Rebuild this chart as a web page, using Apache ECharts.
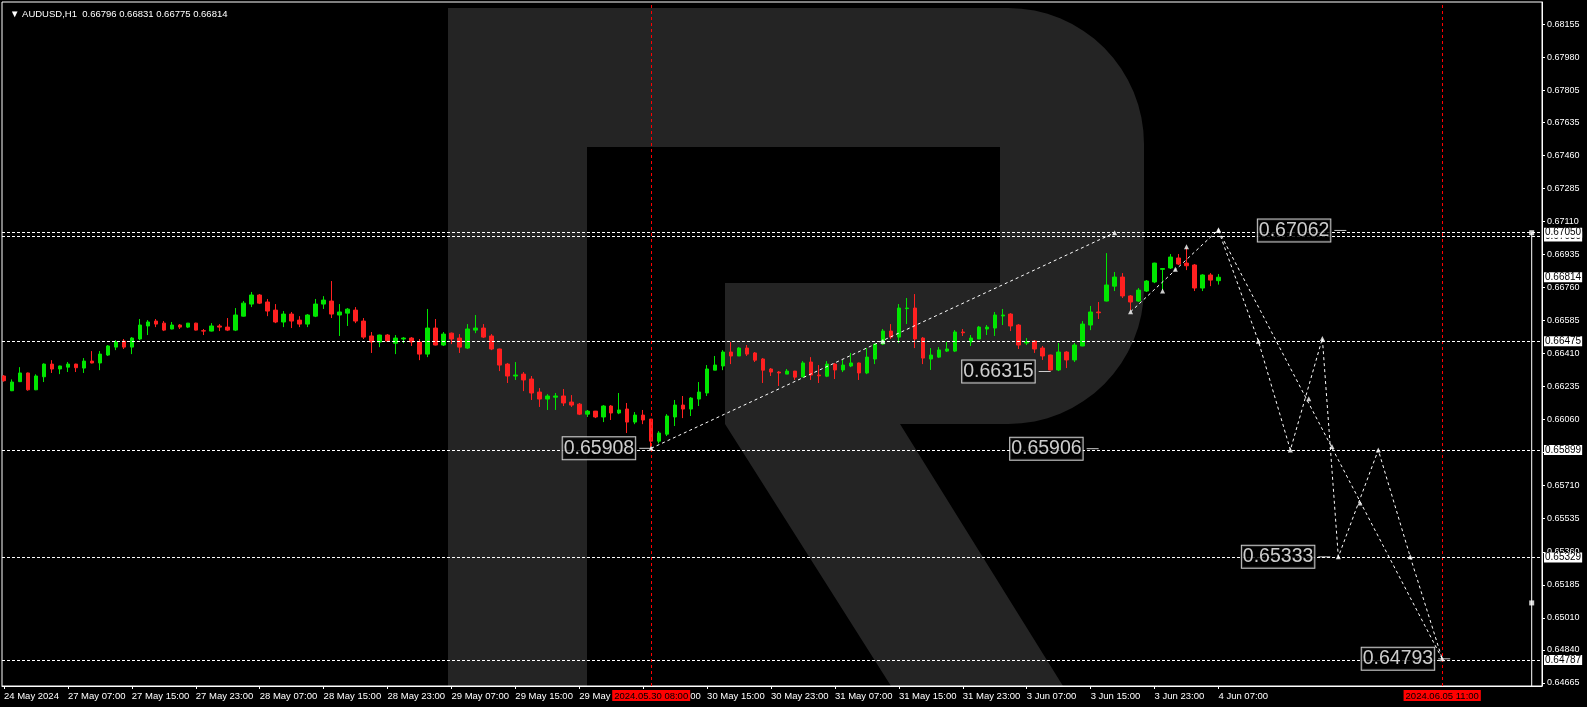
<!DOCTYPE html>
<html><head><meta charset="utf-8">
<script src="https://cdn.jsdelivr.net/npm/echarts@6/dist/echarts.min.js"></script>
<style>html,body{margin:0;padding:0;background:#000;}#c{width:1587px;height:707px;}</style>
</head><body><div id="c"></div>
<script>
const headerText = '\u25BC AUDUSD,H1  0.66796 0.66831 0.66775 0.66814';
const xTickIndex = [0,8,16,24,32,40,48,56,64,72,80,88,96,104,112,120,128,136,144,152];
const xTickLabels = ['24 May 2024','27 May 07:00','27 May 15:00','27 May 23:00','28 May 07:00','28 May 15:00','28 May 23:00','29 May 07:00','29 May 15:00','29 May 23:00','30 May 07:00','30 May 15:00','30 May 23:00','31 May 07:00','31 May 15:00','31 May 23:00','3 Jun 07:00','3 Jun 15:00','3 Jun 23:00','4 Jun 07:00'];
const yTickValues = [0.64665,0.64840,0.65010,0.65185,0.65360,0.65535,0.65710,0.65885,0.66060,0.66235,0.66410,0.66585,0.66760,0.66935,0.67110,0.67285,0.67460,0.67635,0.67805,0.67980,0.68155];
// [open, close, low, high], one per H1 bar starting 24 May 23:00
const candles = [
[0.66291,0.66266,0.66261,0.66296],[0.66213,0.66259,0.66211,0.66273],[0.66261,0.66307,0.66259,0.66338],[0.66307,0.66218,0.66213,0.66309],
[0.66218,0.66291,0.66216,0.66300],[0.66287,0.66354,0.66259,0.66358],[0.66354,0.66328,0.66307,0.66375],[0.66328,0.66344,0.66301,0.66346],
[0.66338,0.66354,0.66312,0.66365],[0.66354,0.66335,0.66312,0.66356],[0.66333,0.66370,0.66307,0.66386],[0.66370,0.66360,0.66358,0.66423],
[0.66360,0.66407,0.66322,0.66423],[0.66402,0.66450,0.66397,0.66455],[0.66444,0.66471,0.66428,0.66481],[0.66476,0.66444,0.66434,0.66487],
[0.66444,0.66492,0.66407,0.66497],[0.66487,0.66561,0.66481,0.66593],[0.66556,0.66577,0.66508,0.66587],[0.66582,0.66566,0.66550,0.66593],
[0.66571,0.66534,0.66529,0.66582],[0.66540,0.66561,0.66538,0.66577],[0.66561,0.66550,0.66540,0.66566],[0.66550,0.66571,0.66545,0.66572],
[0.66571,0.66534,0.66532,0.66573],[0.66531,0.66529,0.66508,0.66540],[0.66529,0.66556,0.66527,0.66571],[0.66556,0.66550,0.66529,0.66566],
[0.66550,0.66534,0.66529,0.66598],[0.66534,0.66614,0.66529,0.66651],[0.66608,0.66677,0.66606,0.66688],[0.66672,0.66720,0.66656,0.66736],
[0.66720,0.66677,0.66672,0.66725],[0.66683,0.66635,0.66608,0.66699],[0.66640,0.66577,0.66571,0.66672],[0.66577,0.66619,0.66550,0.66635],
[0.66619,0.66582,0.66545,0.66630],[0.66587,0.66566,0.66550,0.66608],[0.66566,0.66614,0.66550,0.66619],[0.66608,0.66672,0.66603,0.66699],
[0.66672,0.66693,0.66646,0.66714],[0.66688,0.66619,0.66598,0.66794],[0.66614,0.66630,0.66503,0.66672],[0.66624,0.66645,0.66556,0.66651],
[0.66640,0.66582,0.66571,0.66656],[0.66582,0.66497,0.66487,0.66598],[0.66503,0.66471,0.66413,0.66524],[0.66471,0.66508,0.66444,0.66510],
[0.66508,0.66476,0.66471,0.66513],[0.66465,0.66492,0.66407,0.66508],[0.66487,0.66492,0.66465,0.66497],[0.66492,0.66471,0.66450,0.66497],
[0.66471,0.66407,0.66375,0.66487],[0.66407,0.66545,0.66391,0.66646],[0.66545,0.66455,0.66453,0.66593],[0.66455,0.66513,0.66450,0.66524],
[0.66518,0.66487,0.66460,0.66521],[0.66492,0.66444,0.66413,0.66513],[0.66439,0.66540,0.66434,0.66566],[0.66534,0.66545,0.66518,0.66614],
[0.66545,0.66497,0.66492,0.66566],[0.66503,0.66434,0.66428,0.66513],[0.66434,0.66349,0.66317,0.66436],[0.66354,0.66291,0.66254,0.66360],
[0.66291,0.66296,0.66270,0.66365],[0.66301,0.66270,0.66211,0.66312],[0.66275,0.66201,0.66164,0.66291],[0.66206,0.66169,0.66127,0.66227],
[0.66169,0.66185,0.66111,0.66195],[0.66179,0.66185,0.66111,0.66201],[0.66185,0.66148,0.66132,0.66222],[0.66153,0.66137,0.66127,0.66190],
[0.66142,0.66089,0.66084,0.66148],[0.66089,0.66105,0.66074,0.66111],[0.66105,0.66074,0.66068,0.66106],[0.66074,0.66132,0.66047,0.66137],
[0.66132,0.66095,0.66058,0.66137],[0.66095,0.66111,0.66089,0.66201],[0.66116,0.66047,0.65989,0.66148],[0.66047,0.66084,0.66036,0.66100],
[0.66084,0.66058,0.66036,0.66111],[0.66063,0.65946,0.65908,0.66063],[0.65946,0.65989,0.65934,0.65999],[0.65983,0.66079,0.65973,0.66089],
[0.66074,0.66137,0.66026,0.66164],[0.66137,0.66116,0.66068,0.66185],[0.66116,0.66174,0.66079,0.66179],[0.66169,0.66206,0.66132,0.66259],
[0.66201,0.66328,0.66185,0.66349],[0.66322,0.66349,0.66322,0.66397],[0.66344,0.66418,0.66322,0.66428],[0.66418,0.66397,0.66354,0.66471],
[0.66397,0.66439,0.66397,0.66444],[0.66439,0.66407,0.66397,0.66455],[0.66413,0.66375,0.66365,0.66418],[0.66381,0.66322,0.66254,0.66386],
[0.66328,0.66312,0.66291,0.66333],[0.66312,0.66307,0.66238,0.66317],[0.66301,0.66317,0.66301,0.66328],[0.66317,0.66285,0.66270,0.66318],
[0.66286,0.66360,0.66285,0.66370],[0.66365,0.66296,0.66270,0.66391],[0.66296,0.66292,0.66254,0.66349],[0.66290,0.66354,0.66285,0.66370],
[0.66354,0.66323,0.66275,0.66360],[0.66323,0.66349,0.66312,0.66376],[0.66344,0.66360,0.66338,0.66413],[0.66360,0.66307,0.66270,0.66362],
[0.66307,0.66391,0.66301,0.66439],[0.66381,0.66460,0.66354,0.66462],[0.66460,0.66529,0.66455,0.66540],[0.66529,0.66497,0.66487,0.66566],
[0.66497,0.66651,0.66466,0.66672],[0.66648,0.66651,0.66566,0.66704],[0.66651,0.66487,0.66439,0.66725],[0.66492,0.66386,0.66354,0.66497],
[0.66381,0.66402,0.66323,0.66439],[0.66391,0.66429,0.66386,0.66444],[0.66423,0.66434,0.66418,0.66471],[0.66423,0.66524,0.66418,0.66534],
[0.66524,0.66520,0.66503,0.66540],[0.66471,0.66492,0.66450,0.66508],[0.66487,0.66550,0.66487,0.66556],[0.66540,0.66550,0.66508,0.66561],
[0.66545,0.66614,0.66503,0.66630],[0.66609,0.66614,0.66561,0.66646],[0.66619,0.66556,0.66529,0.66624],[0.66561,0.66455,0.66434,0.66566],
[0.66466,0.66471,0.66455,0.66492],[0.66476,0.66434,0.66413,0.66481],[0.66439,0.66397,0.66376,0.66450],[0.66402,0.66323,0.66321,0.66404],
[0.66323,0.66418,0.66317,0.66466],[0.66418,0.66376,0.66333,0.66423],[0.66376,0.66455,0.66365,0.66466],[0.66450,0.66566,0.66449,0.66582],
[0.66561,0.66630,0.66534,0.66662],[0.66630,0.66626,0.66593,0.66683],[0.66688,0.66773,0.66686,0.66942],[0.66767,0.66815,0.66741,0.66842],
[0.66815,0.66715,0.66704,0.66836],[0.66715,0.66683,0.66640,0.66720],[0.66688,0.66746,0.66683,0.66757],[0.66741,0.66794,0.66736,0.66799],
[0.66789,0.66889,0.66783,0.66891],[0.66856,0.66860,0.66746,0.66863],[0.66863,0.66921,0.66858,0.66937],[0.66916,0.66884,0.66879,0.66937],
[0.66889,0.66875,0.66852,0.66969],[0.66879,0.66757,0.66741,0.66884],[0.66757,0.66826,0.66741,0.66830],[0.66826,0.66799,0.66767,0.66836],
[0.66796,0.66814,0.66775,0.66831]
];
const levelLines = [0.67030, 0.67050, 0.66475, 0.65899, 0.65329, 0.64787];
const currentPrice = 0.66814;
const vLineIndex = [81, 180];
const vLineLabels = ['2024.05.30 08:00', '2024.06.05 11:00'];
const trend1 = [[81,0.65908],[139,0.67050]];
const trend1Marks = [[81,0.65908],[110,0.66475],[139,0.67050]];
const trend2 = [[141,0.66631],[152,0.67066]];
const trend2Marks = [[141,0.66631],[145,0.66741],[146.6,0.66856],[148,0.66976],[152,0.67066]];
const fcZigzag = [[152,0.67062],[157,0.66475],[161,0.65899],[165,0.66490],[167,0.65333],[172,0.65899],[176,0.65333],[180,0.64793]];
const fcStraight = [[152,0.67062],[180,0.64793]];
const fcCross = [[163.3,0.66170],[166.2,0.65918],[169.7,0.65618]];
const priceNotes = [[81,0.65908,'0.65908'],[131,0.66315,'0.66315'],[137,0.65906,'0.65906'],[168,0.67062,'0.67062'],[166,0.65333,'0.65333'],[181,0.64793,'0.64793']];
const rangeBar = [[191.2,0.67050],[191.2,0.64649]];
const rangeMarks = [[191.2,0.67050],[191.2,0.65089]];

const FONT = "'Liberation Sans', Arial, sans-serif";

// background "R" watermark outline (decoration only)
function arcPts(cx, cy, r, a0, a1) {
  const pts = [];
  for (let k = 0; k <= 16; k++) {
    const a = (a0 + (a1 - a0) * k / 16) * Math.PI / 180;
    pts.push([cx + r * Math.cos(a), cy + r * Math.sin(a)]);
  }
  return pts;
}
const logoPts = [[448, 8], [1008, 8]]
  .concat(arcPts(1008, 144, 136, -90, 0))
  .concat([[1144, 288]])
  .concat(arcPts(1008, 288, 136, 0, 90))
  .concat([[900, 424], [1063, 686], [891, 686], [725, 424], [725, 283], [1000, 283], [1000, 147], [587, 147], [587, 686], [448, 686]]);

const chart = echarts.init(document.getElementById('c'), null, {renderer: 'canvas'});
const dash = [3, 3];
const tagLabel = (txt) => ({show: true, position: 'end', distance: 2, formatter: txt, color: '#000', backgroundColor: '#fff',
          fontSize: 10, fontFamily: FONT, padding: [0, 1], lineHeight: 10});
const hMarks = levelLines.map(v => ({
  yAxis: v,
  lineStyle: {color: '#ffffff', type: [3, 2], width: 1},
  label: tagLabel(v.toFixed(5))
}));
hMarks.push({yAxis: currentPrice, lineStyle: {color: 'rgba(0,0,0,0)', width: 1}, label: tagLabel(currentPrice.toFixed(5))});
const vMarks = vLineIndex.map((ix, k) => ({
  xAxis: ix,
  lineStyle: {color: '#ff0000', type: dash, width: 1},
  label: {show: true, position: 'start', distance: 4, formatter: vLineLabels[k], color: '#000', backgroundColor: '#ff0000',
          fontSize: 9.5, fontFamily: FONT, padding: [1, 2, 0, 2], lineHeight: 10}
}));

const markerStyle = {type: 'scatter', symbol: 'triangle', symbolSize: 5, itemStyle: {color: '#fff'}, silent: true, z: 6};
function dashedLine(data) {
  return {type: 'line', data: data, symbol: 'none', silent: true, z: 5,
          lineStyle: {color: '#fff', width: 1, type: dash}};
}

chart.setOption({
  animation: false,
  backgroundColor: '#000',
  title: {text: headerText, left: 5, top: 4,
          textStyle: {color: '#fff', fontSize: 9.5, fontWeight: 'normal', fontFamily: FONT}},
  graphic: [{
    type: 'polygon', z: -10, silent: true,
    shape: {points: logoPts},
    style: {fill: '#242424'}
  }],
  grid: {left: 2, right: 45, top: 2, bottom: 21, show: true, borderColor: '#fff', borderWidth: 1, backgroundColor: 'transparent'},
  xAxis: {
    type: 'value', min: -0.25, max: 192.49,
    axisLine: {show: true, onZero: false, lineStyle: {color: '#fff', width: 1}},
    axisTick: {show: true, length: 3, lineStyle: {color: '#fff'}, customValues: xTickIndex},
    splitLine: {show: false},
    axisLabel: {
      customValues: xTickIndex, align: 'left', margin: 5, color: '#fff', fontSize: 9.5, fontFamily: FONT,
      formatter: v => { const i = xTickIndex.indexOf(Math.round(v)); return i >= 0 ? xTickLabels[i] : ''; }
    }
  },
  yAxis: {
    type: 'value', position: 'right', min: 0.64649, max: 0.68272, scale: true,
    axisLine: {show: true, onZero: false, lineStyle: {color: '#fff', width: 1}},
    axisTick: {show: true, length: 3, lineStyle: {color: '#fff'}, customValues: yTickValues},
    splitLine: {show: false},
    axisLabel: {customValues: yTickValues, margin: 5, color: '#fff', fontSize: 9, fontFamily: FONT,
                formatter: v => v.toFixed(5)}
  },
  series: [
    {
      type: 'candlestick', name: 'AUDUSD,H1',
      data: candles.map((d, i) => [i, d[0], d[1], d[2], d[3]]),
      encode: {x: 0, y: [1, 2, 3, 4]},
      barWidth: 4, silent: true, z: 3,
      itemStyle: {color: '#00e600', color0: '#ff2020', borderColor: '#00e600', borderColor0: '#ff2020', borderWidth: 1},
      markLine: {symbol: ['none', 'none'], silent: true, animation: false, precision: 5, data: vMarks}
    },
    {
      type: 'line', name: 'levels', data: [], silent: true, z: 4,
      markLine: {symbol: ['none', 'none'], silent: true, animation: false, precision: 5, data: hMarks}
    },
    dashedLine(trend1),
    dashedLine(trend2),
    dashedLine(fcZigzag),
    dashedLine(fcStraight),
    {type: 'line', data: rangeBar, symbol: 'none', silent: true, z: 5, lineStyle: {color: '#fff', width: 1}},
    Object.assign({}, markerStyle, {data: trend1Marks}),
    Object.assign({}, markerStyle, {data: trend2Marks}),
    Object.assign({}, markerStyle, {data: fcZigzag}),
    Object.assign({}, markerStyle, {data: fcCross}),
    {type: 'scatter', data: rangeMarks, symbol: 'rect', symbolSize: 5, itemStyle: {color: '#fff'}, silent: true, z: 6},
    {
      type: 'scatter', silent: true, z: 8,
      data: priceNotes.map(p => ({name: p[2], value: [p[0], p[1]]})),
      symbol: 'rect', symbolSize: [12, 1], symbolOffset: [-6, 0], itemStyle: {color: '#fff'},
      label: {show: true, position: 'left', distance: 4, formatter: '{b}', color: '#fff', fontSize: 19.5, fontFamily: FONT,
              backgroundColor: '#000', borderColor: '#fff', borderWidth: 1, padding: [1, 1, 0, 1], lineHeight: 21}
    }
  ]
});
</script></body></html>
